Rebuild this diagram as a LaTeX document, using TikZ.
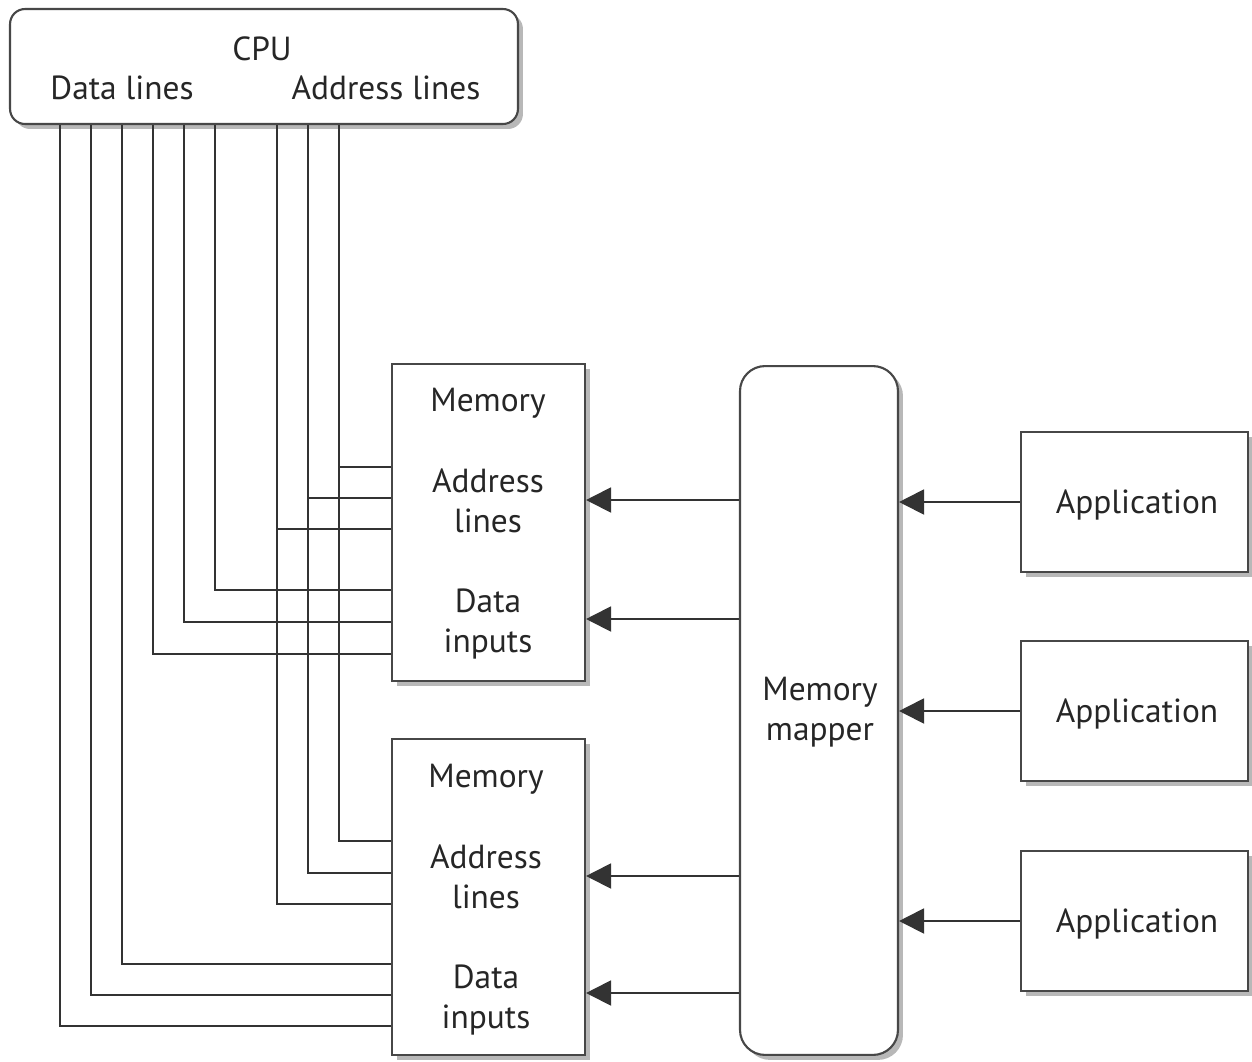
\documentclass[tikz,border=0pt]{standalone}
\usepackage{fontspec}
\setmainfont{PT Sans}
\usetikzlibrary{arrows.meta,shadows}
\begin{document}
\begin{tikzpicture}[x=0.02cm,y=-0.02cm,
  box/.style={draw=black!72, line width=1.2pt, fill=white, inner sep=0pt,
    drop shadow={shadow xshift=0.1cm, shadow yshift=-0.1cm, fill=black!28, opacity=1}},
  wire/.style={draw=black!80, line width=1.1pt},
  arr/.style={wire, -{Triangle[length=0.5cm,width=0.5cm]}},
  lbl/.style={font=\fontsize{19}{22}\selectfont, text=black!85, inner sep=0pt,
    text height=13.6pt, text depth=0pt}]
\useasboundingbox (0,0) rectangle (1252,1062);

% boxes
\node[box, rounded corners=0.3cm, minimum width=10.16cm, minimum height=2.3cm] (cpu) at (264,66.5) {};
\node[box, minimum width=3.86cm, minimum height=6.34cm] (mem1) at (488.5,522.5) {};
\node[box, minimum width=3.86cm, minimum height=6.32cm] (mem2) at (488.5,897) {};
\node[box, rounded corners=0.5cm, minimum width=3.16cm, minimum height=13.78cm] (map) at (819,710.5) {};
\node[box, minimum width=4.54cm, minimum height=2.8cm] (app1) at (1134.5,502) {};
\node[box, minimum width=4.54cm, minimum height=2.8cm] (app2) at (1134.5,711) {};
\node[box, minimum width=4.54cm, minimum height=2.8cm] (app3) at (1134.5,921) {};

% texts
\node[lbl] (tcpu) at (262,49) {CPU};
\node[lbl] (tdl) at (122,88) {Data lines};
\node[lbl] (tal) at (386,88) {Address lines};
\node[lbl] (m1a) at (488,400) {Memory};
\node[lbl] (m1b) at (488,481) {Address};
\node[lbl] (m1c) at (488,521) {lines};
\node[lbl] (m1d) at (488,601) {Data};
\node[lbl] (m1e) at (488,641) {inputs};
\node[lbl] (m2a) at (486,776) {Memory};
\node[lbl] (m2b) at (486,857) {Address};
\node[lbl] (m2c) at (486,897) {lines};
\node[lbl] (m2d) at (486,977) {Data};
\node[lbl] (m2e) at (486,1017) {inputs};
\node[lbl] (tmapa) at (820,689) {Memory};
\node[lbl] (tmapb) at (820,729) {mapper};
\node[lbl] (ta1) at ([xshift=0.05cm]app1.center) {Application};
\node[lbl] (ta2) at ([xshift=0.05cm]app2.center) {Application};
\node[lbl] (ta3) at ([xshift=0.05cm]app3.center) {Application};

% wires from CPU to memories
\foreach \x/\y in {339/467, 308/498, 277/529, 215/590, 184/622, 153/654}
  \draw[wire] (cpu.south -| \x,0) |- (mem1.west |- 0,\y);
\foreach \x/\y in {339/841, 308/873, 277/904, 122/964, 91/995, 60/1026}
  \draw[wire] (cpu.south -| \x,0) |- (mem2.west |- 0,\y);

% arrows mapper -> memories
\foreach \y in {500, 619}
  \draw[arr] (map.west |- 0,\y) -- (mem1.east |- 0,\y);
\foreach \y in {876, 993}
  \draw[arr] (map.west |- 0,\y) -- (mem2.east |- 0,\y);

% arrows applications -> mapper
\draw[arr] (app1.west) -- (app1.west -| map.east);
\draw[arr] (app2.west) -- (app2.west -| map.east);
\draw[arr] (app3.west) -- (app3.west -| map.east);
\end{tikzpicture}
\end{document}
